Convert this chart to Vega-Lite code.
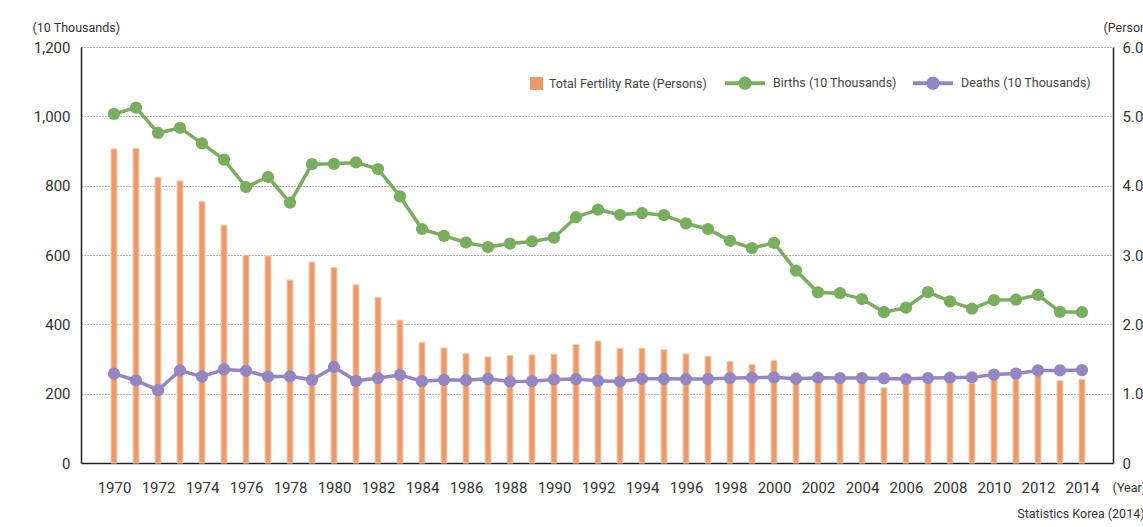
{
  "$schema": "https://vega.github.io/schema/vega-lite/v6.json",
  "width": 1032,
  "height": 416,
  "autosize": "none",
  "padding": {"left": 81, "top": 47, "right": 30, "bottom": 64},
  "background": "white",
  "config": {
    "font": "Roboto",
    "view": {"stroke": null},
    "axis": {"labelFont": "Roboto", "titleFont": "Roboto", "labelColor": "#333", "titleColor": "#333", "domainColor": "#222", "domainWidth": 1.5, "ticks": false, "tickSize": 0, "labelFontSize": 15, "titleFontSize": 12.5, "titleFontWeight": "normal"},
    "legend": {"labelFont": "Roboto", "labelFontSize": 12.5, "labelColor": "#444", "labelLimit": 400, "padding": 0, "title": null}
  },
  "title": {"text": "Statistics Korea (2014)", "orient": "bottom", "anchor": "end", "align": "left", "dx": -140, "offset": 13, "fontSize": 12.5, "fontWeight": "normal", "color": "#333", "font": "Roboto"},
  "data": {"values": [
    {"year": 1970, "tfr": 4.53, "births": 1007, "deaths": 258},
    {"year": 1971, "tfr": 4.54, "births": 1025, "deaths": 238},
    {"year": 1972, "tfr": 4.12, "births": 952, "deaths": 210},
    {"year": 1973, "tfr": 4.07, "births": 967, "deaths": 267},
    {"year": 1974, "tfr": 3.77, "births": 922, "deaths": 249},
    {"year": 1975, "tfr": 3.43, "births": 875, "deaths": 270},
    {"year": 1976, "tfr": 3.00, "births": 796, "deaths": 266},
    {"year": 1977, "tfr": 2.99, "births": 825, "deaths": 249},
    {"year": 1978, "tfr": 2.64, "births": 751, "deaths": 250},
    {"year": 1979, "tfr": 2.90, "births": 862, "deaths": 240},
    {"year": 1980, "tfr": 2.82, "births": 863, "deaths": 277},
    {"year": 1981, "tfr": 2.57, "births": 867, "deaths": 237},
    {"year": 1982, "tfr": 2.39, "births": 848, "deaths": 245},
    {"year": 1983, "tfr": 2.06, "births": 769, "deaths": 254},
    {"year": 1984, "tfr": 1.74, "births": 675, "deaths": 236},
    {"year": 1985, "tfr": 1.66, "births": 655, "deaths": 240},
    {"year": 1986, "tfr": 1.58, "births": 636, "deaths": 239},
    {"year": 1987, "tfr": 1.53, "births": 623, "deaths": 243},
    {"year": 1988, "tfr": 1.55, "births": 633, "deaths": 235},
    {"year": 1989, "tfr": 1.56, "births": 639, "deaths": 236},
    {"year": 1990, "tfr": 1.57, "births": 650, "deaths": 241},
    {"year": 1991, "tfr": 1.71, "births": 709, "deaths": 242},
    {"year": 1992, "tfr": 1.76, "births": 731, "deaths": 237},
    {"year": 1993, "tfr": 1.654, "births": 716, "deaths": 235},
    {"year": 1994, "tfr": 1.656, "births": 721, "deaths": 243},
    {"year": 1995, "tfr": 1.634, "births": 715, "deaths": 243},
    {"year": 1996, "tfr": 1.574, "births": 691, "deaths": 242},
    {"year": 1997, "tfr": 1.54, "births": 675, "deaths": 242},
    {"year": 1998, "tfr": 1.464, "births": 641, "deaths": 245},
    {"year": 1999, "tfr": 1.425, "births": 620, "deaths": 246},
    {"year": 2000, "tfr": 1.48, "births": 635, "deaths": 247},
    {"year": 2001, "tfr": 1.309, "births": 555, "deaths": 243},
    {"year": 2002, "tfr": 1.178, "births": 492, "deaths": 246},
    {"year": 2003, "tfr": 1.191, "births": 490, "deaths": 245},
    {"year": 2004, "tfr": 1.164, "births": 473, "deaths": 245},
    {"year": 2005, "tfr": 1.085, "births": 435, "deaths": 244},
    {"year": 2006, "tfr": 1.132, "births": 448, "deaths": 242},
    {"year": 2007, "tfr": 1.259, "births": 493, "deaths": 245},
    {"year": 2008, "tfr": 1.192, "births": 466, "deaths": 246},
    {"year": 2009, "tfr": 1.149, "births": 445, "deaths": 247},
    {"year": 2010, "tfr": 1.226, "births": 470, "deaths": 255},
    {"year": 2011, "tfr": 1.244, "births": 471, "deaths": 258},
    {"year": 2012, "tfr": 1.297, "births": 485, "deaths": 267},
    {"year": 2013, "tfr": 1.187, "births": 436, "deaths": 267},
    {"year": 2014, "tfr": 1.205, "births": 435, "deaths": 268}
  ]},
  "encoding": {
    "x": {"field": "year", "type": "quantitative",
      "scale": {"domain": [1968.5, 2015.41], "nice": false, "zero": false, "padding": 0},
      "axis": {"values": [1970,1972,1974,1976,1978,1980,1982,1984,1986,1988,1990,1992,1994,1996,1998,2000,2002,2004,2006,2008,2010,2012,2014], "format": "d", "grid": false, "labelBaseline": "middle", "labelPadding": 24, "title": "(Year)", "titleAngle": 0, "titleX": 1031, "titleY": 24, "titleAlign": "left", "titleBaseline": "middle", "labelFlush": false}}
  },
  "layer": [
    {
      "mark": {"type": "bar", "size": 6, "stroke": "#f6cfb3", "strokeWidth": 1},
      "encoding": {
        "y": {"field": "tfr", "type": "quantitative", "scale": {"domain": [0, 6], "nice": false},
          "axis": {"orient": "right", "values": [0,1,2,3,4,5,6], "labelExpr": "datum.value == 0 ? '0' : format(datum.value, '.1f')", "grid": false, "labelPadding": 9, "title": "(Persons)", "titleAngle": 0, "titleX": -10, "titleY": -20, "titleAlign": "left", "titleBaseline": "middle"}},
        "fill": {"datum": "Total Fertility Rate (Persons)", "type": "nominal",
          "scale": {"domain": ["Total Fertility Rate (Persons)"], "range": ["#E99B6B"]},
          "legend": {"orient": "none", "legendX": 449, "legendY": 30, "direction": "horizontal",
            "symbolType": "square", "symbolSize": 169, "symbolStrokeWidth": 0, "symbolOpacity": 1, "labelOffset": 6}}
      }
    },
    {
      "encoding": {
        "y": {"type": "quantitative", "scale": {"domain": [0, 1200], "nice": false},
          "axis": {"orient": "left", "values": [0,200,400,600,800,1000,1200], "labelExpr": "format(datum.value, ',d')", "grid": true, "gridDash": [1, 2], "gridColor": "#666", "gridWidth": 1, "labelPadding": 11, "title": "(10 Thousands)", "titleAngle": 0, "titleX": -49, "titleY": -20, "titleAlign": "left", "titleBaseline": "middle"}}
      },
      "layer": [
        {
          "mark": {"type": "line", "strokeWidth": 3.5, "color": "#79AE5F"},
          "encoding": {"y": {"field": "births", "type": "quantitative"}}
        },
        {
          "mark": {"type": "line", "strokeWidth": 3.5, "color": "#9486C3"},
          "encoding": {"y": {"field": "deaths", "type": "quantitative"}}
        },
        {
          "mark": {"type": "point", "filled": true, "size": 150, "opacity": 1},
          "encoding": {"y": {"field": "births", "type": "quantitative"},
            "color": {"datum": "Births (10 Thousands)", "type": "nominal",
              "scale": {"domain": ["Births (10 Thousands)", "Deaths (10 Thousands)"], "range": ["#79AE5F", "#9486C3"]},
              "legend": {"orient": "none", "legendX": 644, "legendY": 16, "direction": "horizontal",
                "symbolType": "M-1,-0.1H1V0.1H-1Z M-0.33,0A0.33,0.33 0 1,1 0.33,0A0.33,0.33 0 1,1 -0.33,0Z",
                "symbolSize": 1600, "symbolStrokeWidth": 0, "symbolOpacity": 1, "labelOffset": 8, "columnPadding": 16}}}
        },
        {
          "mark": {"type": "point", "filled": true, "size": 150, "opacity": 1},
          "encoding": {"y": {"field": "deaths", "type": "quantitative"},
            "color": {"datum": "Deaths (10 Thousands)", "type": "nominal"}}
        }
      ]
    }
  ],
  "resolve": {"scale": {"y": "independent"}}
}
